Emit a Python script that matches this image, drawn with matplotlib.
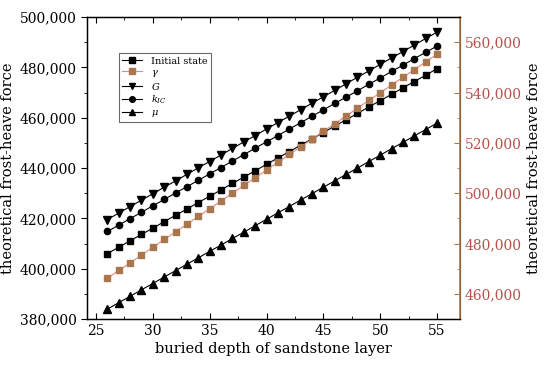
import matplotlib
matplotlib.use('Agg')
import matplotlib.pyplot as plt
from matplotlib.ticker import MultipleLocator, FuncFormatter

plt.rcParams['font.family'] = 'DejaVu Serif'
plt.rcParams['mathtext.fontset'] = 'dejavuserif'

# buried depth of sandstone layer
depth = list(range(26, 56))

# left axis series
initial = [406000, 408500, 411100, 413600, 416100, 418700, 421200, 423700, 426300, 428800,
           431300, 433900, 436400, 438900, 441500, 444000, 446500, 449100, 451600, 454100,
           456700, 459200, 461700, 464300, 466800, 469300, 471900, 474400, 476900, 479500]
G = [419500, 422100, 424700, 427200, 429800, 432400, 434900, 437500, 440100, 442600,
     445200, 447800, 450400, 452900, 455500, 458100, 460600, 463200, 465800, 468300,
     470900, 473500, 476100, 478600, 481200, 483800, 486300, 488900, 491500, 494000]
kic = [414800, 417300, 419900, 422400, 425000, 427500, 430100, 432600, 435100, 437700,
       440200, 442800, 445300, 447900, 450400, 452900, 455500, 458000, 460600, 463100,
       465700, 468200, 470700, 473300, 475800, 478400, 480900, 483500, 486000, 488500]
mu = [383900, 386500, 389000, 391600, 394100, 396700, 399200, 401800, 404300, 406900,
      409400, 412000, 414500, 417100, 419600, 422200, 424700, 427300, 429800, 432400,
      434900, 437500, 440000, 442600, 445100, 447700, 450200, 452800, 455300, 457900]

# right axis series
gamma = [466200, 469300, 472300, 475400, 478500, 481600, 484600, 487700, 490800, 493800,
         496900, 500000, 503100, 506100, 509200, 512300, 515400, 518400, 521500, 524600,
         527600, 530700, 533800, 536900, 539900, 543000, 546100, 549100, 552200, 555300]

brown = '#a9764e'
red_lbl = '#b5524a'

fig = plt.figure(figsize=(5.5, 3.72), dpi=100)
ax = fig.add_axes([0.158, 0.1425, 0.678, 0.8115])
ax2 = ax.twinx()

comma = FuncFormatter(lambda v, p: '{:,.0f}'.format(v))

l1, = ax.plot(depth, initial, color='black', lw=0.8, marker='s', ms=4.5, label='Initial state')
l2, = ax2.plot(depth, gamma, color='#e8857f', lw=0.8, marker='s', ms=4.5,
               mfc=brown, mec=brown, label=r'$\gamma$')
l3, = ax.plot(depth, G, color='black', lw=0.8, marker='v', ms=5.5, label=r'$G$')
l4, = ax.plot(depth, kic, color='black', lw=0.8, marker='o', ms=4.5, label=r'$k_{IC}$')
l5, = ax.plot(depth, mu, color='black', lw=0.8, marker='^', ms=5.5, label=r'$\mu$')

ax.set_xlim(24.2, 57)
ax.set_ylim(380000, 500000)
ax2.set_ylim(450000, 570000)

ax.xaxis.set_major_locator(MultipleLocator(5))
ax.xaxis.set_minor_locator(MultipleLocator(2.5))
ax.yaxis.set_major_locator(MultipleLocator(20000))
ax.yaxis.set_minor_locator(MultipleLocator(10000))
ax2.yaxis.set_major_locator(MultipleLocator(20000))
ax2.yaxis.set_minor_locator(MultipleLocator(10000))
ax.yaxis.set_major_formatter(comma)
ax2.yaxis.set_major_formatter(comma)

ax.tick_params(axis='x', which='both', direction='in', top=True, labelsize=10)
ax.tick_params(axis='x', which='major', length=4)
ax.tick_params(axis='x', which='minor', length=2)
ax.tick_params(axis='y', which='major', direction='out', length=4, labelsize=10)
ax.tick_params(axis='y', which='minor', direction='out', length=2)
ax2.tick_params(axis='y', which='major', direction='in', length=4, color=brown,
                labelcolor=red_lbl, labelsize=10)
ax2.tick_params(axis='y', which='minor', direction='in', length=2, color=brown)
ax2.spines['right'].set_color(brown)
ax2.spines['right'].set_linewidth(1.2)
for s in ['left', 'bottom', 'top']:
    ax.spines[s].set_linewidth(1.0)

ax.set_xlabel('buried depth of sandstone layer', fontsize=10.5, labelpad=3)
ax.set_ylabel('theoretical frost-heave force', fontsize=10.5, labelpad=3)
ax2.set_ylabel('theoretical frost-heave force', fontsize=10.5, rotation=90, labelpad=4)

leg = ax.legend(handles=[l1, l2, l3, l4, l5], loc='upper left',
                bbox_to_anchor=(0.086, 0.88), borderaxespad=0, fontsize=7,
                frameon=True, fancybox=False, edgecolor='#444444',
                handlelength=2.0, labelspacing=0.2, borderpad=0.35,
                handletextpad=0.9, markerscale=0.9)
leg.get_frame().set_linewidth(0.8)

fig.savefig('out.png', dpi=100)
